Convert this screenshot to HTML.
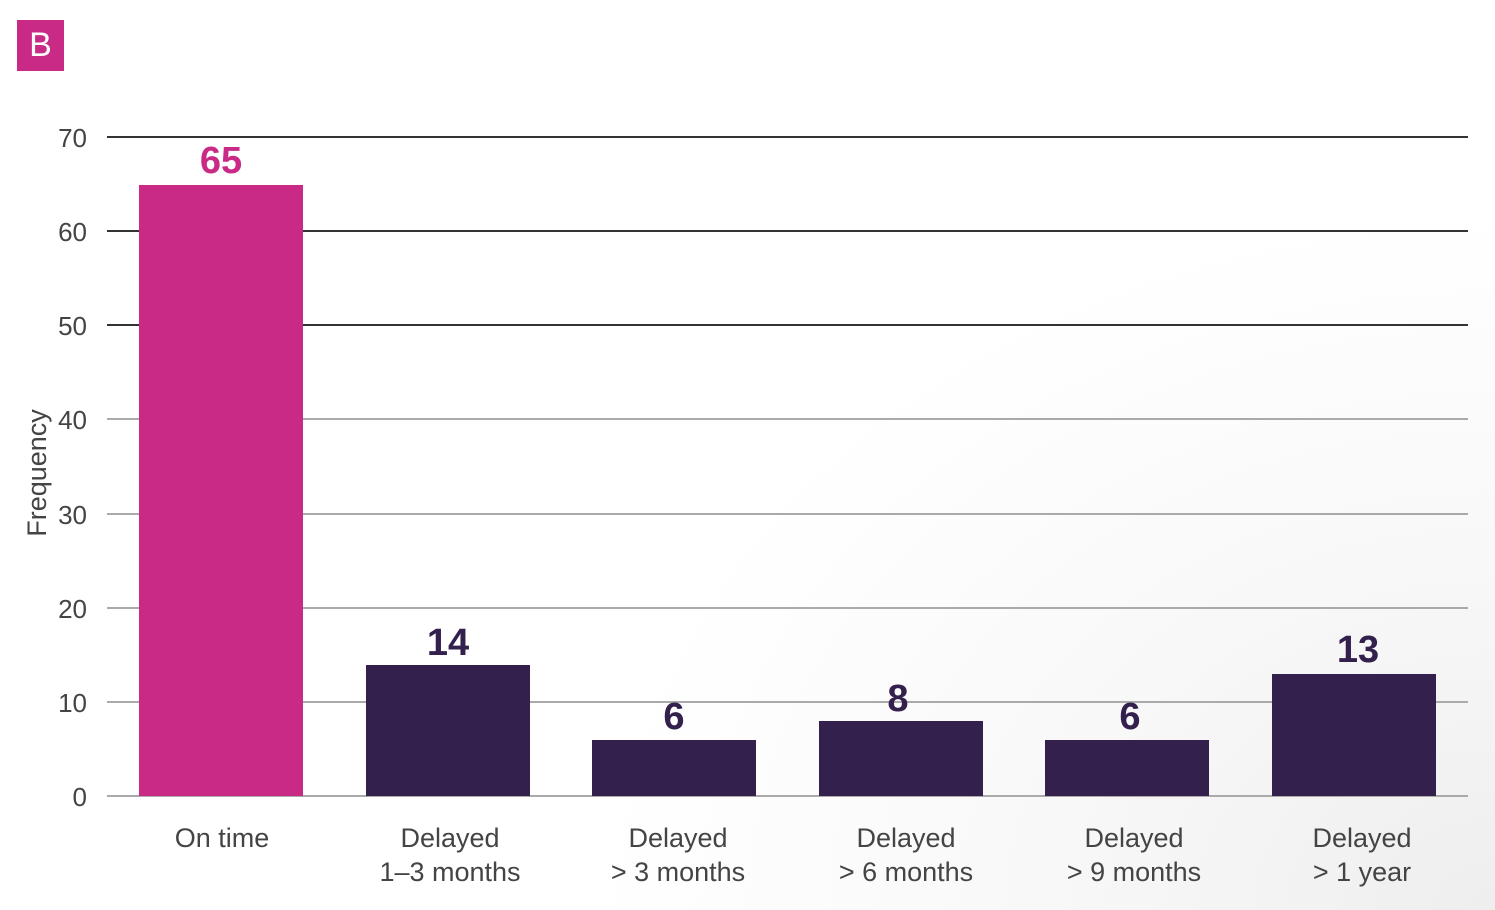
<!DOCTYPE html>
<html><head><style>
html,body{margin:0;padding:0;}
body{width:1495px;height:910px;overflow:hidden;background:radial-gradient(ellipse 900px 700px at 1495px 910px,#eeeeee 0%,#f8f8f8 50%,#ffffff 100%);}
svg{display:block;font-family:"Liberation Sans",sans-serif;}
</style></head><body>
<svg width="1495" height="910" viewBox="0 0 1495 910">
<rect x="17" y="20" width="47" height="51" fill="#c92a85"/>
<text x="40.5" y="56" text-anchor="middle" font-size="34" fill="#fff">B</text>
<g stroke-width="2">
<line x1="107" x2="1468" y1="137" y2="137" stroke="#333"/>
<line x1="107" x2="1468" y1="231" y2="231" stroke="#333"/>
<line x1="107" x2="1468" y1="325" y2="325" stroke="#333"/>
<line x1="107" x2="1468" y1="419" y2="419" stroke="#aaa"/>
<line x1="107" x2="1468" y1="514" y2="514" stroke="#aaa"/>
<line x1="107" x2="1468" y1="608" y2="608" stroke="#aaa"/>
<line x1="107" x2="1468" y1="702" y2="702" stroke="#aaa"/>
<line x1="107" x2="1468" y1="796" y2="796" stroke="#aaa"/>
</g>
<g font-size="26" fill="#444" text-anchor="end">
<text x="87" y="147">70</text><text x="87" y="241">60</text><text x="87" y="335">50</text>
<text x="87" y="429">40</text><text x="87" y="524">30</text><text x="87" y="618">20</text>
<text x="87" y="712">10</text><text x="87" y="806">0</text>
</g>
<text transform="translate(46,473) rotate(-90)" text-anchor="middle" font-size="27" fill="#444">Frequency</text>
<rect x="139" y="185" width="164" height="611" fill="#c92a85"/>
<rect x="366" y="665" width="164" height="131" fill="#33204d"/>
<rect x="592" y="740" width="164" height="56" fill="#33204d"/>
<rect x="819" y="721" width="164" height="75" fill="#33204d"/>
<rect x="1045" y="740" width="164" height="56" fill="#33204d"/>
<rect x="1272" y="674" width="164" height="122" fill="#33204d"/>
<g font-size="38" font-weight="bold" text-anchor="middle">
<text x="221" y="173" fill="#c92a85">65</text>
<text x="448" y="655" fill="#33204d">14</text>
<text x="674" y="729" fill="#33204d">6</text>
<text x="898" y="711" fill="#33204d">8</text>
<text x="1130" y="729" fill="#33204d">6</text>
<text x="1358" y="662" fill="#33204d">13</text>
</g>
<g font-size="27" fill="#444" text-anchor="middle">
<text x="222" y="847">On time</text>
<text x="450" y="847">Delayed</text><text x="450" y="881">1–3 months</text>
<text x="678" y="847">Delayed</text><text x="678" y="881">&gt; 3 months</text>
<text x="906" y="847">Delayed</text><text x="906" y="881">&gt; 6 months</text>
<text x="1134" y="847">Delayed</text><text x="1134" y="881">&gt; 9 months</text>
<text x="1362" y="847">Delayed</text><text x="1362" y="881">&gt; 1 year</text>
</g>
</svg>
</body></html>
